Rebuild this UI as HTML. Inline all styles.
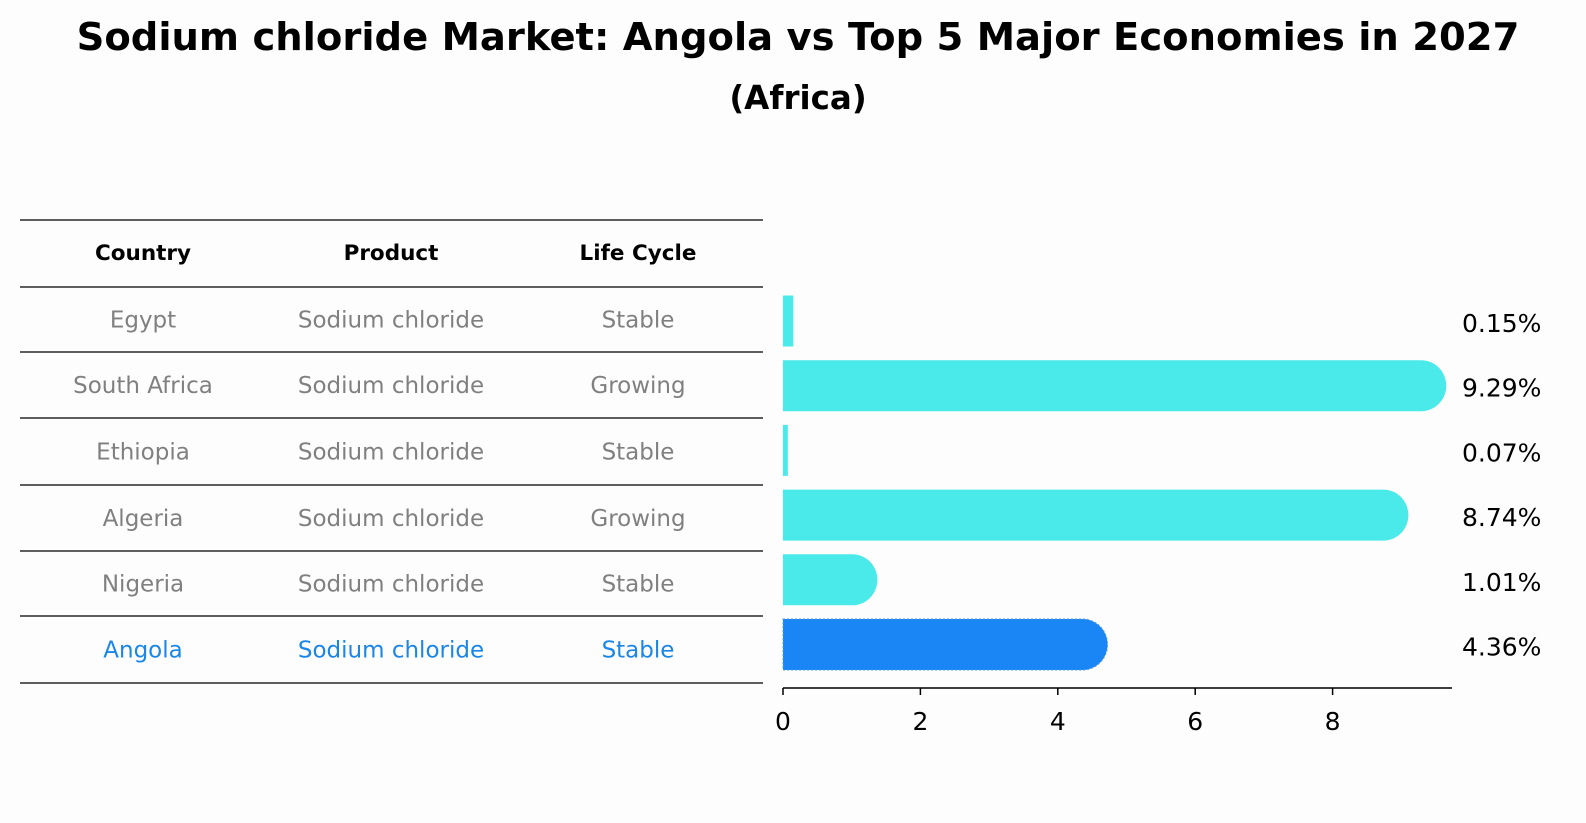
<!DOCTYPE html>
<html><head><meta charset="utf-8"><style>
html,body{margin:0;padding:0;overflow:hidden;width:1586px;height:823px;background:#fdfdfd;font-family:"DejaVu Sans","Liberation Sans",sans-serif;}
svg{display:block;}
</style></head><body>
<svg width="1586" height="823" xmlns="http://www.w3.org/2000/svg" font-family="DejaVu Sans, Liberation Sans, sans-serif">
<rect width="1586" height="823" fill="#fdfdfd"/>
<text x="798" y="50" text-anchor="middle" font-size="38.5" font-weight="bold">Sodium chloride Market: Angola vs Top 5 Major Economies in 2027</text>
<text x="798" y="109" text-anchor="middle" font-size="32.5" font-weight="bold">(Africa)</text>
<g id="table"></g>
<g id="bars"></g>
</svg>
<script>
const countries=["Egypt","South Africa","Ethiopia","Algeria","Nigeria","Angola"];
const products=["Sodium chloride","Sodium chloride","Sodium chloride","Sodium chloride","Sodium chloride","Sodium chloride"];
const lifeCycles=["Stable","Growing","Stable","Growing","Stable","Stable"];
const values=[0.15,9.29,0.07,8.74,1.01,4.36];
const valueLabels=["0.15%","9.29%","0.07%","8.74%","1.01%","4.36%"];
const ticks=[0,2,4,6,8];
const NS="http://www.w3.org/2000/svg";
function mk(t,a,p){const e=document.createElementNS(NS,t);for(const k in a)e.setAttribute(k,a[k]);p.appendChild(e);return e;}
const tbl=document.getElementById('table'),bars=document.getElementById('bars');
const lineY=[220,287,352,418,485,551,616,683];
lineY.forEach(y=>{const l=mk('line',{x1:20,x2:763,y1:y,y2:y,stroke:'#000','stroke-width':1.2},tbl);

});
const colX=[143,391,638];
["Country","Product","Life Cycle"].forEach((h,i)=>{const t=mk('text',{x:colX[i],y:260,'text-anchor':'middle','font-size':21.5,'font-weight':'bold'},tbl);t.textContent=h;

});
const xs=v=>783+v*68.7;
const rowY=i=>321+i*64.7;
countries.forEach((c,i)=>{
 const col=i===5?'#1a86e8':'#808080';
 [c,products[i],lifeCycles[i]].forEach((s,j)=>{const t=mk('text',{x:colX[j],y:(lineY[i+1]+lineY[i+2])/2+8,'text-anchor':'middle','font-size':23,fill:col},tbl);t.textContent=s;
 
 });
 const y=rowY(i),h=51,x0=783,x1=xs(values[i]),r=25;
 const fill=i===5?'#1a86f5':'#4beaea';
 let d;
 if(x1-x0>r){d=`M${x0},${y-h/2} H${x1} A${r},${h/2} 0 0 1 ${x1},${y+h/2} H${x0} Z`;}
 else{d=`M${x0},${y-h/2} H${Math.max(x1,x0+4)} V${y+h/2} H${x0} Z`;}
 const p=mk('path',{d:d,fill:fill},bars);
 if(i===5){p.setAttribute('stroke','#4a9be8');p.setAttribute('stroke-dasharray','2 2');}
 
 
 const t=mk('text',{x:1462,y:y+11,'font-size':25},bars);t.textContent=valueLabels[i];
 
 
});
const ax=mk('line',{x1:783,x2:1452,y1:688,y2:688,stroke:'#000','stroke-width':1.5},bars);


ticks.forEach(v=>{const l=mk('line',{x1:xs(v),x2:xs(v),y1:688,y2:695,stroke:'#000','stroke-width':1.5},bars);


const t=mk('text',{x:xs(v),y:730,'text-anchor':'middle','font-size':25},bars);t.textContent=v;

});
</script>
</body></html>
